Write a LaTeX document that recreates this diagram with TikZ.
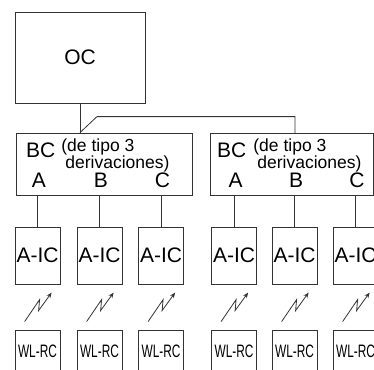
\documentclass[tikz,border=0pt]{standalone}
\usepackage{fontspec}
\setmainfont{Liberation Sans}
\usetikzlibrary{arrows.meta}
\begin{document}
\begin{tikzpicture}[x=1pt,y=-1pt,
  line width=0.8pt,
  ln/.style={draw=black!80},
  box/.style={draw=black!80, rectangle, inner sep=0pt},
  bigtxt/.style={font=\fontsize{21}{22}\selectfont},
  smalltxt/.style={font=\fontsize{17.5}{17}\selectfont},
  aic/.style={box, minimum width=45pt, minimum height=57pt, bigtxt},
  wlrc/.style={box, minimum width=45pt, minimum height=42pt},
  letter/.style={anchor=base, inner sep=0pt, bigtxt},
  bolt/.style={ln, line width=0.8pt, -{Stealth[length=5.5pt,width=4.5pt]}}
]
\useasboundingbox (0,0) rectangle (374,369);
\clip (0,0) rectangle (374,369);

% OC
\node[box, minimum width=130pt, minimum height=91pt, bigtxt] (oc) at (80,57.5) {OC};

% BC boxes
\node[box, minimum width=176pt, minimum height=62pt] (bc1) at (104,164) {};
\node[box, minimum width=163pt, minimum height=62pt] (bc2) at (291.5,164) {};

% BC texts
\foreach \b/\dx in {bc1/10, bc2/7} {
  \node[anchor=base west, inner sep=0pt, bigtxt] (\b-name) at ([xshift=\dx pt, yshift=-25pt]\b.north west) {BC};
}
\node[anchor=base west, inner sep=0pt, smalltxt] (bc1-t1) at (61,151) {(de tipo 3};
\node[anchor=base west, inner sep=0pt, smalltxt] (bc1-t2) at (65,168) {derivaciones)};
\node[anchor=base west, inner sep=0pt, smalltxt] (bc2-t1) at (253,151) {(de tipo 3};
\node[anchor=base west, inner sep=0pt, smalltxt] (bc2-t2) at (257,168) {derivaciones)};

% OC to BC connections
\coordinate (j) at (oc.south |- bc1.north);
\coordinate (k) at (295,133);
\draw[ln] (oc.south) -- (j);
\draw[ln] (j) -- ++(17,-16) -| (k);

% A-IC and WL-RC columns
\foreach \i/\x/\b/\L in {1/37.5/bc1/A, 2/99.5/bc1/B, 3/161/bc1/C, 4/234/bc2/A, 5/294.5/bc2/B, 6/355.5/bc2/C} {
  \node[aic] (aic\i) at (\x,255.5) {A-IC};
  \node[wlrc] (wl\i) at (\x,351) {\fontsize{18}{20}\selectfont\scalebox{0.66}[1]{WL-RC}};
  \node[letter] (let\i) at (\x+1.5,187) {\L};
  \draw[ln] (aic\i.north |- \b.south) -- (aic\i.north);
  \draw[bolt] ([xshift=10pt, yshift=8pt]wl\i.north west) -- ++(15,-22) -- ++(-1,11) -- ++(13,-18);
}
\end{tikzpicture}
\end{document}
